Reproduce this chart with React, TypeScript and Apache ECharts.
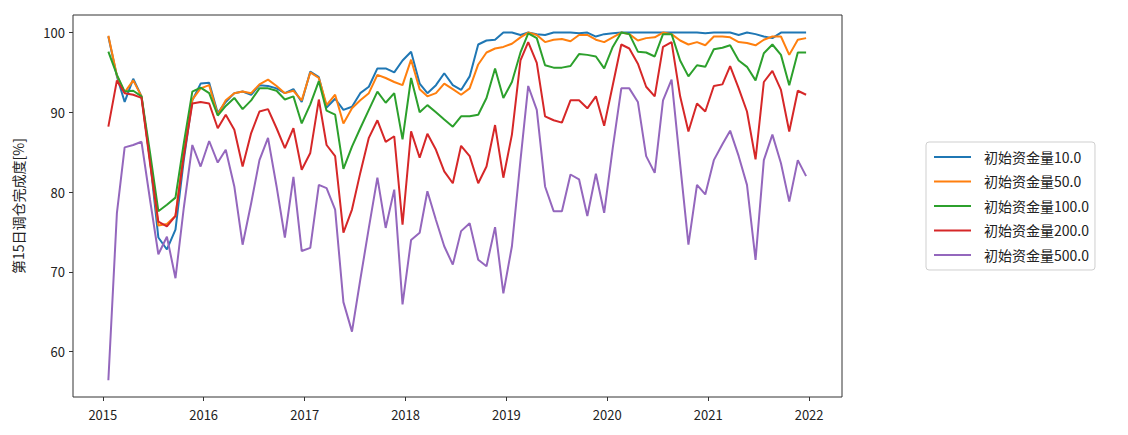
import React, { useEffect, useRef } from "react";
import * as echarts from "echarts";

const years = [2015, 2016, 2017, 2018, 2019, 2020, 2021];
const tickYears = [2015, 2016, 2017, 2018, 2019, 2020, 2021, 2022];
const yTicks = [60, 70, 80, 90, 100];
const seriesNames = ["初始资金量10.0", "初始资金量50.0", "初始资金量100.0", "初始资金量200.0", "初始资金量500.0"];
const colors = ["#1f77b4", "#ff7f0e", "#2ca02c", "#d62728", "#9467bd"];

const cap10 = [
  99.5, 94.5, 91.3, 94.2, 92.0, 84.0, 74.3, 72.8, 75.3, 84.0, 91.5, 93.6,
  93.7, 89.9, 91.3, 92.4, 92.6, 92.2, 93.4, 93.3, 93.0, 92.4, 92.9, 91.3,
  95.1, 94.4, 90.6, 91.7, 90.3, 90.7, 92.4, 93.2, 95.5, 95.5, 95.0, 96.5,
  97.6, 93.6, 92.4, 93.4, 94.9, 93.4, 92.8, 94.5, 98.5, 99.0, 99.1, 100,
  100, 99.7, 100, 99.8, 99.7, 100, 100, 100, 99.9, 100, 99.5, 99.8,
  99.9, 100, 100, 100, 100, 100, 100, 100, 100, 100, 100, 99.9,
  100, 100, 100, 99.7, 100, 99.8, 99.5, 99.3, 100, 100, 100, 100,
];
const cap50 = [
  99.6, 94.6, 92.5, 94.0, 92.0, 84.0, 75.8, 76.0, 77.0, 85.0, 91.6, 93.0,
  93.4, 89.7, 91.5, 92.4, 92.6, 92.4, 93.5, 94.1, 93.3, 92.4, 92.7, 91.5,
  95.0, 94.3, 90.9, 92.2, 88.6, 90.5, 91.5, 92.4, 94.7, 94.3, 93.8, 93.4,
  96.6, 92.9, 92.0, 92.4, 93.6, 92.9, 92.2, 93.0, 96.0, 97.5, 98.0, 98.2,
  98.6, 99.4, 100, 99.7, 98.8, 99.1, 99.2, 98.9, 99.7, 99.7, 99.1, 98.8,
  99.4, 100, 99.8, 99.0, 99.3, 99.4, 100, 99.8, 99.0, 98.5, 98.8, 98.4,
  99.5, 99.5, 99.4, 98.8, 98.7, 98.4, 99.1, 99.5, 99.5, 97.2, 99.1, 99.3,
];
const cap100 = [
  97.6, 94.7, 92.6, 92.7, 92.0, 84.9, 77.6, 78.4, 79.3, 86.1, 92.6, 93.1,
  92.4, 89.6, 90.8, 91.8, 90.4, 91.5, 93.0, 93.0, 92.7, 91.6, 92.0, 88.6,
  91.0, 93.9, 90.2, 89.7, 82.9, 85.7, 88.0, 90.3, 92.6, 91.2, 92.4, 86.6,
  94.3, 90.0, 90.9, 90.0, 89.1, 88.2, 89.5, 89.5, 89.7, 91.8, 95.5, 91.8,
  93.8, 97.5, 99.9, 99.3, 95.9, 95.6, 95.6, 95.8, 97.3, 97.2, 97.0, 95.5,
  98.2, 100, 99.8, 97.6, 97.5, 97.0, 99.8, 99.8, 96.5, 94.5, 95.9, 95.7,
  97.9, 98.1, 98.4, 96.5, 95.7, 94.0, 97.4, 98.5, 97.2, 93.4, 97.5, 97.5,
];
const cap200 = [
  88.2, 94.0, 92.4, 92.2, 91.8, 83.6, 76.3, 75.7, 77.0, 84.5, 91.1, 91.3,
  91.1, 88.0, 89.7, 87.8, 83.2, 87.4, 90.1, 90.4, 88.0, 85.5, 88.0, 82.8,
  84.9, 91.6, 85.9, 84.5, 74.9, 77.8, 82.4, 86.8, 89.0, 86.3, 87.0, 75.9,
  87.6, 84.3, 87.3, 85.3, 82.6, 81.1, 85.8, 84.5, 81.1, 83.2, 88.4, 81.8,
  87.2, 96.5, 98.8, 96.2, 89.5, 89.0, 88.7, 91.5, 91.5, 90.5, 92.0, 88.3,
  93.4, 98.5, 98.0, 96.1, 93.2, 92.0, 98.2, 98.8, 92.0, 87.6, 91.1, 90.1,
  93.3, 93.5, 95.8, 93.0, 90.1, 84.1, 93.8, 95.2, 92.8, 87.6, 92.7, 92.2,
];
const cap500 = [
  56.4, 77.4, 85.6, 85.9, 86.3, 79.0, 72.2, 74.4, 69.2, 78.0, 85.9, 83.2,
  86.4, 83.7, 85.3, 80.7, 73.4, 78.6, 84.0, 86.8, 80.7, 74.3, 81.9, 72.6,
  73.0, 80.9, 80.5, 77.8, 66.2, 62.5, 69.0, 75.5, 81.8, 75.5, 80.3, 65.9,
  74.0, 74.9, 80.1, 76.5, 73.2, 70.9, 75.1, 76.1, 71.5, 70.7, 75.6, 67.3,
  73.2, 84.0, 93.3, 90.3, 80.7, 77.6, 77.6, 82.2, 81.6, 77.0, 82.3, 77.4,
  85.5, 93.0, 93.0, 91.3, 84.5, 82.4, 91.5, 94.1, 83.5, 73.4, 80.9, 79.7,
  84.0, 86.0, 87.7, 84.5, 80.9, 71.5, 84.0, 87.2, 83.6, 78.8, 84.0, 82.0,
];
const allSeries = [cap10, cap50, cap100, cap200, cap500];

const dates: number[] = [];
years.forEach((y) => {
  for (let m = 0; m < 12; m++) dates.push(Date.UTC(y, m, 21));
});
const yearTicks = tickYears.map((y) => Date.UTC(y, 0, 1));

const FONT = "'Noto Sans CJK SC', 'Noto Sans', sans-serif";

export default function App() {
  const ref = useRef<HTMLDivElement>(null);
  useEffect(() => {
    if (!ref.current) return;
    const chart = echarts.init(ref.current, null, { renderer: "svg" });
    chart.setOption({
      animation: false,
      backgroundColor: "#ffffff",
      grid: {
        left: 73,
        right: 286,
        top: 15,
        bottom: 38,
        show: true,
        borderColor: "#333",
        borderWidth: 1,
      },
      legend: {
        orient: "vertical",
        left: 926,
        top: 142,
        itemWidth: 37,
        itemHeight: 14,
        itemGap: 10.5,
        padding: [8, 6, 8, 7],
        borderColor: "#cfcfcf",
        borderWidth: 1,
        borderRadius: 3,
        backgroundColor: "#fff",
        data: seriesNames,
        itemStyle: { opacity: 0 },
        lineStyle: { width: 2 },
        textStyle: { fontFamily: FONT, fontSize: 14, color: "#222", padding: [0, 0, 0, 8] },
      },
      xAxis: {
        type: "value",
        scale: true,
        min: Date.UTC(2014, 8, 15),
        max: Date.UTC(2022, 3, 30),
        axisLine: { show: false },
        splitLine: { show: false },
        axisTick: {
          show: true,
          inside: false,
          length: 4,
          lineStyle: { color: "#333" },
          customValues: yearTicks,
        },
        axisLabel: {
          show: true,
          color: "#222",
          fontFamily: FONT,
          fontSize: 13,
          margin: 11,
          customValues: yearTicks,
          formatter: (v: number) => String(new Date(v).getUTCFullYear()),
        },
      },
      yAxis: {
        type: "value",
        min: 54.3,
        max: 102.2,
        name: "第15日调仓完成度[%]",
        nameLocation: "middle",
        nameGap: 48,
        nameTextStyle: { fontFamily: FONT, fontSize: 14, color: "#222" },
        axisLine: { show: false },
        splitLine: { show: false },
        axisTick: {
          show: true,
          inside: false,
          length: 4,
          lineStyle: { color: "#333" },
          customValues: yTicks,
        },
        axisLabel: {
          show: true,
          color: "#222",
          fontFamily: FONT,
          fontSize: 13,
          margin: 8,
          customValues: yTicks,
        },
      },
      series: allSeries.map((vals, k) => ({
        name: seriesNames[k],
        type: "line",
        symbol: "none",
        showSymbol: false,
        color: colors[k],
        lineStyle: { width: 2, color: colors[k] },
        data: vals.map((v, i) => [dates[i], v]),
      })),
    });
    return () => chart.dispose();
  }, []);
  return (
    <div
      ref={ref}
      style={{ position: "absolute", left: 0, top: 0, width: 1128, height: 435 }}
    />
  );
}
